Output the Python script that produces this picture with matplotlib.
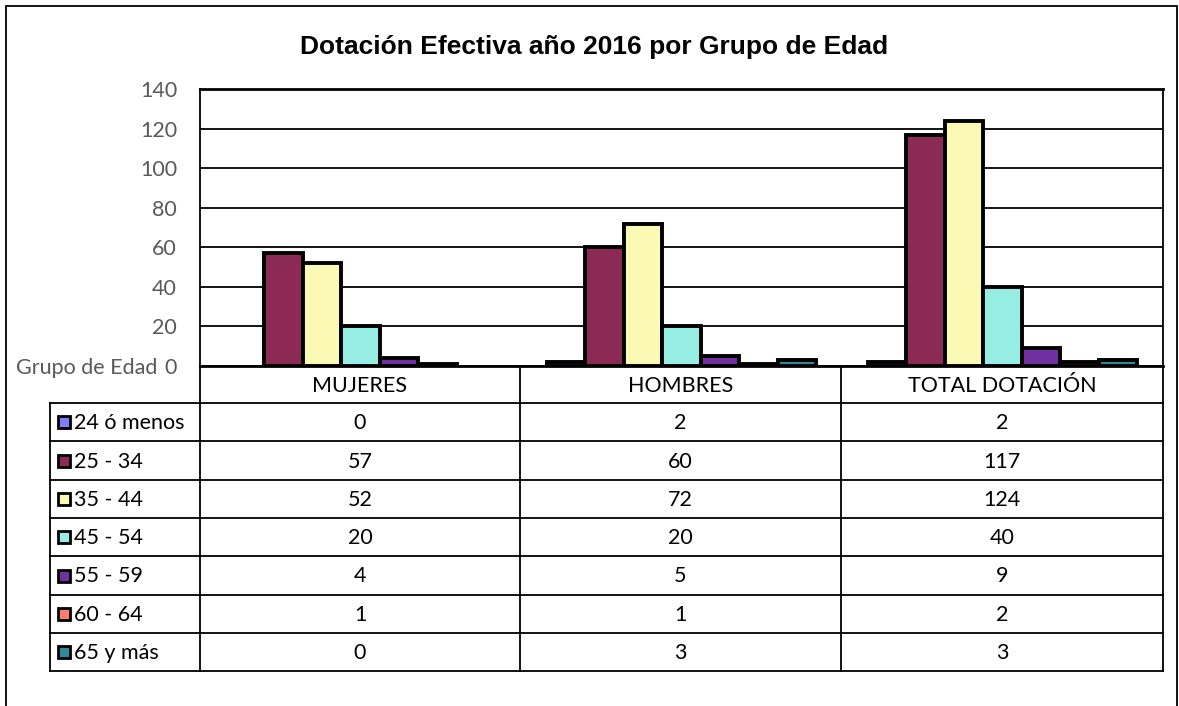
import matplotlib
matplotlib.use("Agg")
import matplotlib.pyplot as plt
from matplotlib.lines import Line2D
from matplotlib.patches import Rectangle
import numpy as np

# data
categories = ["MUJERES", "HOMBRES", "TOTAL DOTACIÓN"]
groups = ["24 ó menos", "25 - 34", "35 - 44", "45 - 54", "55 - 59", "60 - 64", "65 y más"]
v_24 = [0, 2, 2]
v_25 = [57, 60, 117]
v_35 = [52, 72, 124]
v_45 = [20, 20, 40]
v_55 = [4, 5, 9]
v_60 = [1, 1, 2]
v_65 = [0, 3, 3]
series = [v_24, v_25, v_35, v_45, v_55, v_60, v_65]
colors = ["#8080FF", "#8B2A55", "#FAFAB4", "#96EDE4", "#7030A0", "#FF7F6E", "#2F8A9A"]
yticks = [0, 20, 40, 60, 80, 100, 120, 140]

W, H = 1179, 706
fig = plt.figure(figsize=(W / 100, H / 100), dpi=100)

def fx(x):
    return x / W

def fy(y):
    return 1 - y / H

font = ["Lato", "DejaVu Sans"]
fs = 15.5
grey = "#595959"

# plot area
ax = fig.add_axes([fx(200), fy(366), fx(1163) - fx(200), fy(89) - fy(366)])
bw = 0.12
x = np.arange(len(categories))
for i, vals in enumerate(series):
    lw = [0 if v == 0 else 2.8 for v in vals]
    ax.bar(x + (i - 3) * bw, vals, width=bw, color=colors[i], edgecolor="black",
           linewidth=lw, zorder=3)
ax.set_xlim(-0.5, 2.5)
ax.set_ylim(0, 140)
ax.set_yticks(yticks)
ax.set_yticklabels([str(t) for t in yticks], fontsize=fs, color=grey, family=font)
ax.tick_params(axis="y", length=0, pad=16.5)
ax.set_xticks([])
ax.yaxis.grid(True, color="black", linewidth=1.3, zorder=0)
for s in ax.spines.values():
    s.set_linewidth(1.3)
ax.spines["top"].set_linewidth(2)
ax.spines["bottom"].set_linewidth(2)

fig.text(fx(594), fy(47), "Dotación Efectiva año 2016 por Grupo de Edad",
         ha="center", va="center", fontsize=19, fontweight="bold",
         family=["Liberation Sans", "DejaVu Sans"])
fig.text(fx(157), fy(368), "Grupo de Edad", ha="right", va="center",
         fontsize=fs, color=grey, family=font)

# outer border
fig.add_artist(Rectangle((fx(6), fy(712)), fx(1177) - fx(6), fy(6) - fy(712),
                         transform=fig.transFigure, fill=False, edgecolor="black",
                         linewidth=1.3))

# data table
col_x = [50, 200, 520, 841, 1163]
row_y = [366, 403, 441, 480, 518, 556, 595, 633, 671]

def hline(y, x0, x1):
    fig.add_artist(Line2D([fx(x0), fx(x1)], [fy(y), fy(y)], transform=fig.transFigure,
                          color="black", linewidth=1.3))

def vline(x, y0, y1):
    fig.add_artist(Line2D([fx(x), fx(x)], [fy(y0), fy(y1)], transform=fig.transFigure,
                          color="black", linewidth=1.3))

for y in row_y[1:]:
    hline(y, col_x[0], col_x[-1])
vline(col_x[0], row_y[1], row_y[-1])
for cx in col_x[1:]:
    vline(cx, row_y[0], row_y[-1])

for j, cat in enumerate(categories):
    fig.text(fx((col_x[j + 1] + col_x[j + 2]) / 2), fy((row_y[0] + row_y[1]) / 2 + 2), cat,
             ha="center", va="center", fontsize=fs, family=font)

for i, g in enumerate(groups):
    yc = (row_y[i + 1] + row_y[i + 2]) / 2
    fig.add_artist(Rectangle((fx(58), fy(yc + 6)), fx(12), fy(0) - fy(12),
                             transform=fig.transFigure, facecolor=colors[i],
                             edgecolor="black", linewidth=2))
    fig.text(fx(74), fy(yc + 1), g, ha="left", va="center", fontsize=fs, family=font)
    for j in range(len(categories)):
        fig.text(fx((col_x[j + 1] + col_x[j + 2]) / 2), fy(yc + 1), str(series[i][j]),
                 ha="center", va="center", fontsize=fs, family=font)

fig.savefig("out.png", dpi=100)
